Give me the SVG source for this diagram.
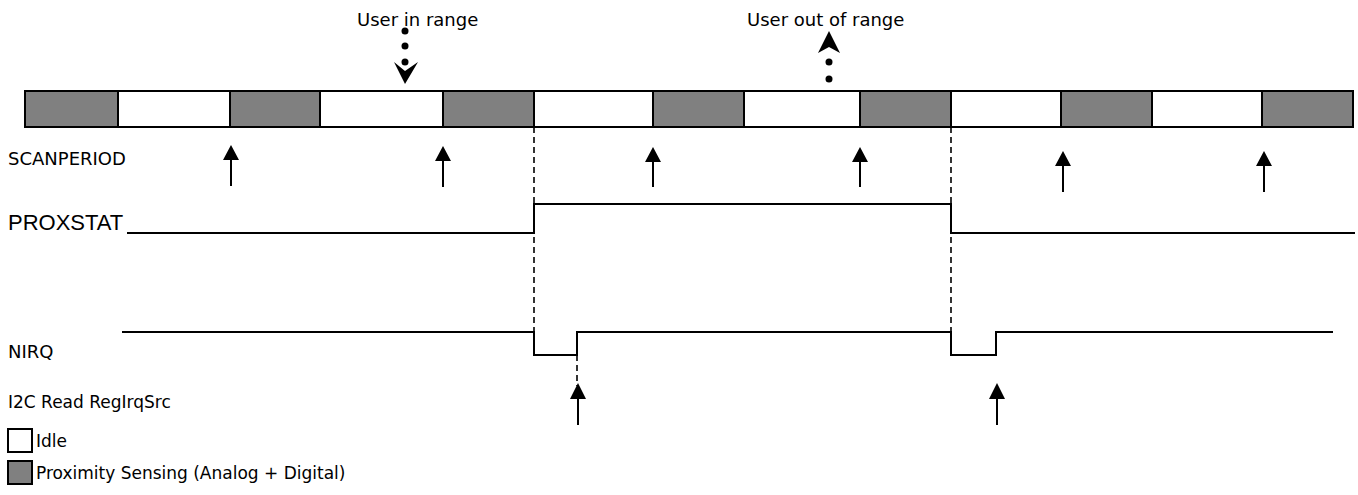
<svg xmlns="http://www.w3.org/2000/svg" width="1358" height="495" viewBox="0 0 1358 495">
<style>
.t{font-family:"DejaVu Sans",Verdana,sans-serif;font-size:18px;fill:#000}
.s{font-family:"DejaVu Sans",Verdana,sans-serif;font-size:17px;fill:#000}
.a{font-family:"Liberation Sans",Arial,sans-serif;font-size:22px;fill:#000}
.g{fill:#808080;stroke:#000;stroke-width:2}
.w{fill:#fff;stroke:#000;stroke-width:2}
.sig{fill:none;stroke:#000;stroke-width:2}
.dash{fill:none;stroke:#000;stroke-width:1.6;stroke-dasharray:6 4}
.ln{stroke:#000;stroke-width:2}
</style>
<g id="scanbar">
<rect class="g" x="25" y="91" width="93" height="36"/>
<rect class="w" x="118" y="91" width="112" height="36"/>
<rect class="g" x="230" y="91" width="90" height="36"/>
<rect class="w" x="320" y="91" width="123" height="36"/>
<rect class="g" x="443" y="91" width="91" height="36"/>
<rect class="w" x="534" y="91" width="119" height="36"/>
<rect class="g" x="653" y="91" width="91" height="36"/>
<rect class="w" x="744" y="91" width="116" height="36"/>
<rect class="g" x="860" y="91" width="91" height="36"/>
<rect class="w" x="951" y="91" width="110" height="36"/>
<rect class="g" x="1061" y="91" width="91" height="36"/>
<rect class="w" x="1152" y="91" width="110" height="36"/>
<rect class="g" x="1262" y="91" width="91" height="36"/>
</g>
<g id="labels">
<text class="t" x="8" y="165">SCANPERIOD</text>
<text class="a" x="8" y="230">PROXSTAT</text>
<text class="t" x="8" y="358">NIRQ</text>
<text class="s" x="8" y="408">I2C Read RegIrqSrc</text>
</g>
<g id="event-in">
<text class="t" x="357" y="26">User in range</text>
<circle cx="405" cy="31" r="3.5"/>
<circle cx="405" cy="46" r="3.5"/>
<circle cx="405" cy="62" r="3.5"/>
<path d="M394,62 L405,84 L418,62 L405,71 Z"/>
</g>
<g id="event-out">
<text class="t" x="747" y="26">User out of range</text>
<path d="M818,53 L829,31 L840,53 L829,47 Z"/>
<circle cx="829" cy="62" r="3.5"/>
<circle cx="829" cy="79" r="3.5"/>
</g>
<g id="scan-arrows">
<line class="ln" x1="231" y1="186" x2="231" y2="156"/><path d="M223,160 L231,145 L239,160 Z"/>
<line class="ln" x1="443" y1="187" x2="443" y2="157"/><path d="M435,161 L443,146 L451,161 Z"/>
<line class="ln" x1="653" y1="187" x2="653" y2="158"/><path d="M645,162 L653,147 L661,162 Z"/>
<line class="ln" x1="860" y1="187" x2="860" y2="158"/><path d="M852,162 L860,147 L868,162 Z"/>
<line class="ln" x1="1063" y1="192" x2="1063" y2="162"/><path d="M1055,166 L1063,151 L1071,166 Z"/>
<line class="ln" x1="1264" y1="192" x2="1264" y2="162"/><path d="M1256,166 L1264,151 L1272,166 Z"/>
</g>
<g id="signals">
<path class="sig" d="M127,233 L534,233 L534,204 L951,204 L951,233 L1355,233"/>
<path class="sig" d="M122,332 L534,332 L534,355 L577,355 L577,332 L951,332 L951,355 L996,355 L996,332 L1333,332"/>
</g>
<g id="connectors">
<line class="dash" x1="534" y1="127" x2="534" y2="332"/>
<line class="dash" x1="951" y1="127" x2="951" y2="332"/>
<line class="dash" x1="577" y1="355" x2="577" y2="386"/>
</g>
<g id="i2c-arrows">
<line class="ln" x1="578" y1="425" x2="578" y2="396"/><path d="M570,399 L578,383 L586,399 Z"/>
<line class="ln" x1="997" y1="425" x2="997" y2="396"/><path d="M989,399 L997,383 L1005,399 Z"/>
</g>
<g id="legend">
<rect class="w" x="8" y="429" width="24" height="23"/>
<text class="s" x="36" y="447">Idle</text>
<rect class="g" x="8" y="461" width="24" height="23"/>
<text class="s" x="36" y="479">Proximity Sensing (Analog + Digital)</text>
</g>
</svg>
